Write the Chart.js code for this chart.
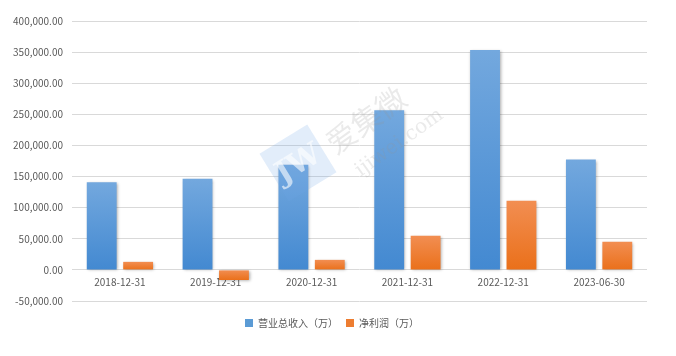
<!DOCTYPE html>
<html><head><meta charset="utf-8">
<script src="https://cdn.jsdelivr.net/npm/chart.js@4/dist/chart.umd.min.js"></script>
<style>html,body{margin:0;padding:0;background:#fff}#wrap{width:676px;height:356px;position:relative}</style>
</head><body><div id="wrap"><canvas id="c"></canvas></div>
<script>
const categories = ['2018-12-31','2019-12-31','2020-12-31','2021-12-31','2022-12-31','2023-06-30'];
const revenue = [141000, 146300, 168900, 256500, 353200, 177400];
const netProfit = [12900, -16300, 16100, 54800, 111300, 45200];
const seriesNames = ['营业总收入（万）','净利润（万）'];
const yMin = -50000, yMax = 400000, yStep = 50000;

const FONT = '"Noto Sans CJK SC", "Noto Sans", sans-serif';
const TXT = '#595959';

function grad(colors) {
  return function(ctx) {
    const chart = ctx.chart;
    const ys = chart.scales && chart.scales.y;
    if (!ys || !chart.chartArea || ctx.raw === undefined) return colors[1];
    const a = ys.getPixelForValue(ctx.raw), b = ys.getPixelForValue(0);
    const top = Math.min(a, b), bot = Math.max(a, b);
    if (!isFinite(top) || bot - top < 1) return colors[1];
    const g = chart.ctx.createLinearGradient(0, top, 0, bot);
    g.addColorStop(0, colors[0]);
    g.addColorStop(1, colors[1]);
    return g;
  };
}

const shadowPlugin = {
  id: 'shadow',
  beforeDatasetsDraw(chart) {
    const c = chart.ctx; c.save();
    c.shadowColor = 'rgba(0,0,0,0.35)'; c.shadowBlur = 3; c.shadowOffsetX = 1; c.shadowOffsetY = 1;
  },
  afterDatasetsDraw(chart) { chart.ctx.restore(); }
};

const watermark = {
  id: 'watermark',
  afterDatasetsDraw(chart) {
    const c = chart.ctx; c.save();
    c.translate(298, 163); c.rotate(-0.55);
    c.fillStyle = 'rgba(110,165,228,0.2)';
    c.fillRect(-28, -28, 56, 56);
    c.fillStyle = 'rgba(255,255,255,0.6)';
    c.font = 'bold 30px "DejaVu Serif", serif';
    c.textAlign = 'center'; c.textBaseline = 'middle';
    c.fillText('JW', 0, 2);
    c.restore();
    c.save();
    c.translate(366, 120); c.rotate(-0.62);
    c.fillStyle = 'rgba(150,150,150,0.2)';
    c.font = '30px "Noto Sans CJK SC", sans-serif';
    c.textAlign = 'center'; c.textBaseline = 'middle';
    c.fillText('爱集微', 0, 0);
    c.font = '20px "DejaVu Serif", serif';
    c.fillText('ijiwei.com', 14, 38);
    c.restore();
  }
};

new Chart(document.getElementById('c'), {
  type: 'bar',
  data: {
    labels: categories,
    datasets: [
      { label: seriesNames[0], data: revenue, backgroundColor: grad(['#73a8de', '#4389d1']), borderWidth: 0, categoryPercentage: 0.76, barPercentage: 0.82 },
      { label: seriesNames[1], data: netProfit, backgroundColor: grad(['#f28e52', '#ea701a']), borderWidth: 0, categoryPercentage: 0.76, barPercentage: 0.82 }
    ]
  },
  options: {
    responsive: true, maintainAspectRatio: false, animation: false,
    layout: { padding: { left: 0, right: 12, top: 21, bottom: 18 } },
    plugins: {
      legend: {
        position: 'bottom',
        title: { display: true, text: ' ', font: { size: 1, lineHeight: 1 }, padding: { top: 0, bottom: 8 } },
        labels: {
          boxWidth: 8, boxHeight: 8, padding: 8, color: TXT,
          font: { family: FONT, size: 10 },
          generateLabels(chart) {
            const cols = ['#5b9bd5', '#ed7d31'];
            return chart.data.datasets.map((d, i) => ({ text: d.label, fillStyle: cols[i], strokeStyle: cols[i], lineWidth: 0, datasetIndex: i, fontColor: TXT }));
          }
        }
      },
      tooltip: { enabled: false }
    },
    scales: {
      x: {
        position: { y: 0 },
        grid: { display: false, drawTicks: false },
        border: { display: false },
        ticks: { color: TXT, font: { family: FONT, size: 10 }, padding: 6, maxRotation: 0 }
      },
      y: {
        min: yMin, max: yMax,
        afterFit(s) { s.width = 72; },
        grid: { color: '#d9d9d9', drawTicks: false },
        border: { display: false },
        ticks: {
          stepSize: yStep, color: TXT, padding: 9,
          font: { family: FONT, size: 10 },
          callback(v) { return v.toLocaleString('en-US', { minimumFractionDigits: 2, maximumFractionDigits: 2 }); }
        }
      },
      ySpacer: {
        position: 'right', min: yMin, max: yMax,
        afterFit(s) { s.width = 17; },
        grid: { display: false, drawTicks: false },
        border: { display: false },
        ticks: { display: false }
      }
    }
  },
  plugins: [shadowPlugin, watermark]
});
</script>
</body></html>
